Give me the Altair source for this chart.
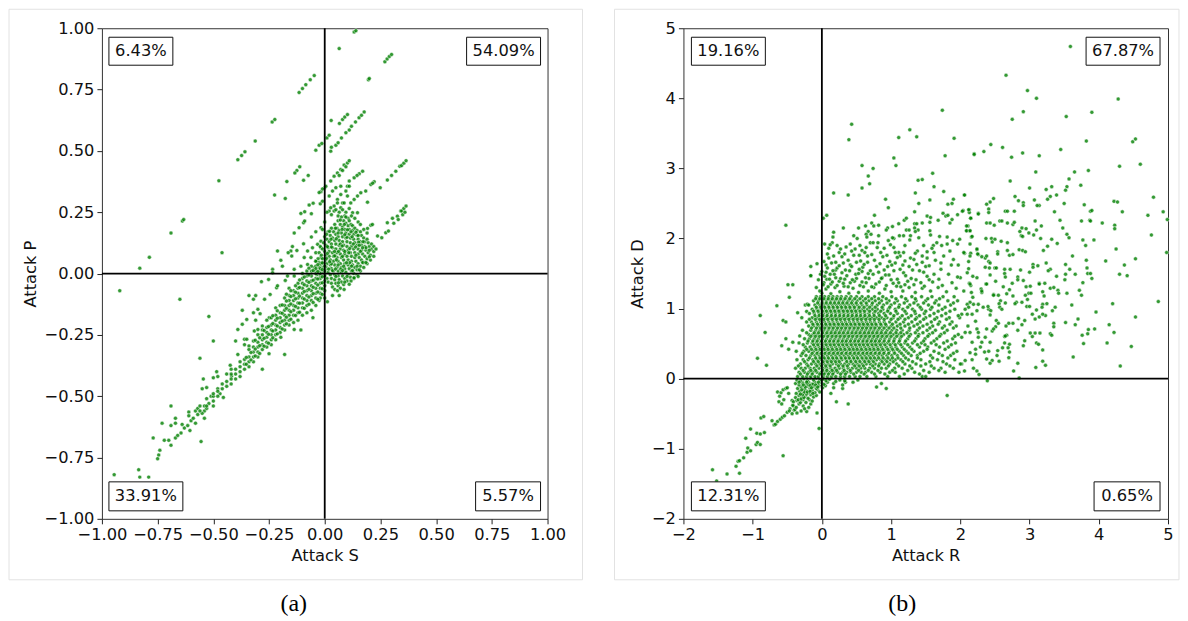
import altair as alt
import pandas as pd

# ---------- panel (a): Attack S / Attack P ----------
a_streaks = [(.132,.985),(.14,.99),(.065,.917),(.27,.863),(.28,.875),(.29,.885),(.30,.893),(.196,.79),(.2,.795),
 (-.115,.738),(-.10,.754),(-.085,.77),(-.065,.79),(-.047,.807),(-.236,.618),(-.224,.628),(-.312,.54),
 (-.39,.464),(-.373,.481),(-.358,.496),(-.475,.378),(-.639,.214),(-.633,.22),(-.69,.165),(-.787,.066),(-.83,.022),(-.461,.085),
 (.029,.624),(.066,.612),(.08,.628),(.09,.638),(.102,.648),(.138,.618),(.154,.635),(.165,.645),(.177,.659),
 (-.04,.503),(-.025,.523),(-.013,.53),(.01,.553),(.02,.564),(.027,.499),(.03,.515),(.05,.523),(.06,.533),(.075,.553),(.095,.574),(.11,.585),(.12,.6),
 (-.112,.435),(-.125,.42),(-.134,.41),(-.17,.375),(-.074,.40),(-.095,.38),(-.225,.32),(-.177,.306),
 (-.107,.245),(-.09,.252),(-.06,.244),(-.07,.279),(-.052,.287),(-.02,.284),(-.01,.295),(-.017,.333),(0,.35),
 (-.115,.187),(-.095,.207),(-.09,.214),(-.137,.165),(-.06,.149),(-.04,.17),(-.017,.187),
 (-.212,.092),(-.145,.11),(-.152,.092),(-.164,.085),(-.125,.094),(-.095,.121),(-.197,.054),(-.19,.03),(-.148,.071),(-.234,.017),
 (-.077,.092),(-.055,.105),(-.032,.119),(-.017,.132),(-.062,.065),(-.04,.085),(-.017,.105),(-.092,.065),(-.107,.03),(-.077,.037),(-.04,.051),(-.137,.017),(-.047,.024),(-.017,.065),(-.017,.03),
 (.027,.377),(.042,.397),(.057,.41),(.072,.424),(.087,.442),(.102,.451),(.11,.46),(.095,.435),(.08,.42),(.065,.4),
 (-.025,.33),(-.01,.345),(.005,.356),(.02,.316),(.035,.336),(.05,.35),(.072,.356),(.102,.356),
 (.11,.377),(.132,.39),(.155,.407),(.17,.417),(.145,.4),(.057,.302),(.072,.322),(.095,.336),(.11,.356),
 (.02,.255),(.042,.275),(.057,.288),(.08,.288),(.102,.316),(.027,.268),(.042,.255),(.072,.268),(.087,.288),(.117,.288),(.132,.302),(.147,.316),(.162,.329),(.184,.336),
 (.207,.363),(.222,.374),(.215,.368),(.249,.35),(.281,.381),(.3,.4),(.319,.417),(.337,.437),(.345,.44),(.355,.45),(.365,.46),
 (.192,.291),(.147,.248),(.125,.248),(.207,.197),(.192,.184),(.214,.2),(.281,.207),(.304,.225),(.326,.234),(.341,.255),
 (.345,.255),(.355,.265),(.365,.275),(.35,.24),(.36,.25),(.33,.22),(.31,.205),(.256,.146),(.274,.166),(.286,.173),(.237,.153),
 (.01,.25),(.03,.24),(.05,.26),(.065,.25),(.08,.26),(.095,.25),(.11,.265),(.06,.235),(.09,.235),(.105,.225),(.12,.235),(.135,.225),(.15,.21),(.0,.21),(-.01,.18),(.16,.2),(.175,.18),(.19,.165)]

a_blob = [(0,.15),(.015,.17),(.03,.185),(.045,.2),(.06,.215),(.075,.23),
 (-.02,.11),(-.005,.125),(.01,.14),(.025,.155),(.04,.17),(.055,.185),(.07,.2),(.085,.215),(.095,.23),
 (-.025,.085),(-.01,.1),(.005,.115),(.02,.13),(.035,.145),(.05,.16),(.065,.175),(.08,.19),(.095,.205),(.11,.215),
 (-.03,.06),(-.015,.075),(0,.09),(.015,.105),(.03,.12),(.045,.135),(.06,.15),(.075,.165),(.09,.18),(.105,.195),(.118,.2),
 (-.04,.03),(-.025,.045),(-.01,.06),(.005,.075),(.02,.09),(.035,.105),(.05,.12),(.065,.135),(.08,.15),(.095,.165),(.11,.18),(.125,.195),
 (-.04,.01),(-.025,.025),(-.01,.04),(.005,.055),(.02,.07),(.035,.085),(.05,.1),(.065,.115),(.08,.13),(.095,.145),(.11,.16),(.125,.175),(.135,.185),
 (-.035,-.005),(-.02,.01),(-.005,.025),(.01,.04),(.025,.055),(.04,.07),(.055,.085),(.07,.1),(.085,.115),(.1,.13),(.115,.145),(.13,.16),(.145,.175),
 (-.02,-.01),(-.005,.005),(.01,.02),(.025,.035),(.04,.05),(.055,.065),(.07,.08),(.085,.095),(.1,.11),(.115,.125),(.13,.14),(.145,.155),(.16,.17),
 (0,-.01),(.015,.005),(.03,.02),(.045,.035),(.06,.05),(.075,.065),(.09,.08),(.105,.095),(.12,.11),(.135,.125),(.15,.14),(.165,.155),
 (.01,-.02),(.025,-.005),(.04,.01),(.055,.025),(.07,.04),(.085,.055),(.1,.07),(.115,.085),(.13,.1),(.145,.115),(.16,.13),(.175,.145),
 (.015,-.035),(.03,-.02),(.045,-.005),(.06,.01),(.075,.025),(.09,.04),(.105,.055),(.12,.07),(.135,.085),(.15,.1),(.165,.115),(.18,.13),(.19,.14),
 (.03,-.04),(.045,-.025),(.06,-.01),(.075,.005),(.09,.02),(.105,.035),(.12,.05),(.135,.065),(.15,.08),(.165,.095),(.18,.11),(.195,.125),
 (.035,-.055),(.05,-.04),(.065,-.025),(.08,-.01),(.095,.005),(.11,.02),(.125,.035),(.14,.05),(.155,.065),(.17,.08),(.185,.095),(.2,.11),(.21,.12),
 (.045,-.065),(.06,-.05),(.075,-.035),(.09,-.02),(.105,-.005),(.12,.01),(.135,.025),(.15,.04),(.165,.055),(.18,.07),(.195,.085),(.21,.1),(.22,.11),
 (.07,-.06),(.085,-.045),(.1,-.03),(.115,-.015),(.13,0),(.145,.015),(.16,.03),(.175,.045),(.19,.06),(.205,.075),(.22,.09),(.23,.1),
 (.13,-.02),(.145,-.005),(.16,.01),(.175,.025),(.19,.04),(.205,.055),(.22,.07),
 (.008,.16),(.022,.172),(.048,.185),(.07,.218),(.088,.2),(.102,.178),(.06,.165),(.03,.108),(.012,.082),(.044,.09),(.07,.12),(.1,.148),(.123,.15),(.14,.168),
 (.005,.028),(.03,.04),(.052,.056),(.08,.07),(.108,.085),(.128,.12),(.152,.128),(.172,.13),(.035,.012),(.06,.035),(.085,.03),(.112,.044),(.14,.075),(.16,.09),(.185,.105),(.2,.095),
 (.012,.11),(.028,.14),(.052,.142),(.078,.18),(.09,.158),(.118,.17),(.15,.155),(.008,.062),(.022,.048),(.045,.072),(.062,.09),(.078,.112),(.09,.09),(.112,.102),(.138,.108),(.155,.115),(.17,.105),
 (.018,.018),(.048,.018),(.072,.018),(.098,.044),(.12,.03),(.145,.03),(.17,.045),(.2,.068),(.05,-.012),(.08,.012),(.1,-.012),(.125,.012),(.155,.015),(.185,.045),(.062,-.038),(.09,-.035),(.118,-.03),(.15,-.012)]

a_band_columns = {0:[-.1,-.07,-.05,-.03,-.01,.01,.03],-.02:[-.1,-.08,-.06,-.04,-.02,0,.02,.04],
 -.04:[-.13,-.1,-.08,-.06,-.04,-.02,0,.02,.05],-.06:[-.15,-.11,-.09,-.07,-.05,-.03,-.01,.01,.03],
 -.08:[-.16,-.13,-.11,-.09,-.07,-.05,-.03,-.01,.01],-.1:[-.17,-.14,-.12,-.1,-.08,-.06,-.04,-.02,0],
 -.12:[-.19,-.16,-.14,-.12,-.1,-.08,-.06,-.04],-.14:[-.2,-.17,-.15,-.13,-.11,-.09,-.07],
 -.16:[-.21,-.19,-.17,-.15,-.13,-.11,-.09,-.06],-.18:[-.23,-.21,-.19,-.17,-.15,-.13,-.1],
 -.2:[-.24,-.22,-.2,-.18,-.16,-.13],-.22:[-.27,-.25,-.23,-.21,-.19,-.17,-.14],-.24:[-.29,-.27,-.25,-.23,-.21,-.18],
 -.26:[-.3,-.28,-.26,-.24,-.22,-.19],-.28:[-.31,-.29,-.27,-.25,-.23],-.3:[-.34,-.32,-.3,-.28,-.25],
 -.32:[-.36,-.34,-.32,-.3],-.34:[-.38,-.36,-.34,-.31],-.36:[-.39,-.37,-.35],-.38:[-.42,-.4,-.38,-.36],
 -.4:[-.43,-.41,-.39],-.42:[-.45,-.43,-.41,-.39],-.44:[-.46,-.44,-.41],-.46:[-.47,-.45],-.48:[-.5,-.48],
 -.5:[-.52,-.5,-.49],-.53:[-.54,-.51],-.56:[-.56,-.54],
 -.011:[-.085,-.062,-.038,-.013,.016,.044],-.031:[-.105,-.075,-.047,-.022,.008,.036],-.052:[-.118,-.082,-.056,-.027,.012],
 -.071:[-.125,-.096,-.064,-.036,-.006,.022],-.092:[-.142,-.104,-.073,-.046,-.014],-.113:[-.158,-.121,-.092,-.057,-.026],
 -.131:[-.171,-.134,-.103,-.076,-.05],-.152:[-.186,-.156,-.124,-.094,-.07],-.172:[-.205,-.178,-.142,-.112,-.084],
 -.191:[-.226,-.194,-.162,-.128],-.213:[-.246,-.214,-.182,-.152],-.233:[-.262,-.234,-.204,-.172],-.252:[-.284,-.248,-.216],
 -.272:[-.296,-.264,-.232],-.292:[-.326,-.294,-.262],-.312:[-.336,-.308,-.272],-.331:[-.352,-.322],-.352:[-.37,-.342]}

a_sparse = [(-.92,-.07),(-.65,-.105),(-.52,-.175),(-.50,-.275),(-.56,-.345),(-.18,-.33),(-.28,-.39),
 (-.545,-.43),(-.485,-.40),(-.48,-.42),(-.50,-.425),(-.55,-.47),(-.53,-.465),(-.48,-.47),(-.455,-.505),(-.69,-.54),
 (-.73,-.61),(-.69,-.62),(-.67,-.61),(-.67,-.59),(-.61,-.565),(-.61,-.58),(-.58,-.56),(-.57,-.575),
 (-.54,-.59),(-.54,-.54),(-.54,-.56),(-.53,-.55),(-.77,-.67),(-.72,-.68),(-.70,-.68),(-.69,-.70),(-.555,-.685),
 (-.74,-.72),(-.745,-.74),(-.75,-.755),(-.67,-.67),(-.66,-.66),(-.645,-.65),(-.63,-.63),(-.64,-.615),(-.615,-.62),(-.60,-.60),(-.605,-.64),
 (-.945,-.82),(-.835,-.80),(-.83,-.83),(-.79,-.83),(-.59,-.59),(-.57,-.55),(-.52,-.53),(-.51,-.5),(-.58,-.61),(-.55,-.57),(-.5,-.54),(-.47,-.49),
 (-.34,-.09),(-.31,-.09),(-.32,-.105),(-.245,-.085),(-.27,-.105),(-.37,-.15),(-.32,-.16),(-.30,-.146),(-.29,-.164),(-.35,-.187),(-.31,-.19),(-.37,-.207),
 (-.39,-.228),(-.40,-.275),(-.36,-.268),(-.35,-.268),(-.39,-.33),(-.36,-.29),(-.34,-.295),(-.32,-.275),(-.316,-.234),(-.30,-.228),(-.28,-.214),(-.418,-.418),(-.424,-.374),
 (-.284,-.033),(-.252,-.024),(-.216,-.058),(-.177,-.028),(-.234,.003),(-.167,-.01),(-.137,-.01),(-.249,-.18),(-.212,-.05),
 (-.107,-.23),(-.137,-.228),(-.197,-.26),(-.25,-.327),(-.053,-.18),(-.025,-.11),(.012,-.115),(.035,-.09),(.057,-.07),(.065,-.09),(.087,-.065),(.11,-.044),(.132,-.017)]

# ---------- panel (b): Attack R / Attack D ----------
b_sparse = [(3.59,4.74),(2.66,4.33),(2.97,4.11),(3.10,4.00),(4.28,3.99),(2.91,3.81),(2.75,3.70),(3.53,3.74),(3.90,3.80),(3.82,3.39),(4.49,3.38),(4.53,3.42),
 (2.20,3.21),(2.34,3.24),(2.44,3.34),(2.61,3.30),(2.74,3.16),(2.90,3.22),(3.14,3.18),(3.45,3.27),(4.30,3.03),(4.60,3.06),(3.85,2.97),(3.65,2.95),(3.09,2.95),
 (3.57,2.85),(2.72,2.82),(3.54,2.74),(3.74,2.76),(3.52,2.69),(3.32,2.74),(3.24,2.70),(3.0,2.72),(3.39,2.62),(3.30,2.60),(3.26,2.56),(4.79,2.59),(2.06,2.62),
 (2.48,2.57),(2.43,2.52),(2.38,2.49),(2.79,2.60),(2.84,2.54),(2.91,2.51),(2.91,2.47),(3.07,2.55),(3.14,2.47),(3.11,2.47),(3.50,2.50),(3.79,2.48),(4.22,2.53),(4.27,2.52),
 (4.34,2.38),(3.88,2.39),(3.90,2.40),(4.71,2.33),(4.93,2.38),(4.99,2.27),(3.36,2.38),(2.04,2.40),(2.13,2.41),(2.13,2.37),(2.26,2.36),(2.41,2.42),(2.41,2.37),(2.65,2.39),(2.68,2.39),(2.78,2.39),
 (2.15,2.29),(2.38,2.22),(2.43,2.22),(2.49,2.19),(2.57,2.25),(2.60,2.25),(2.68,2.22),(2.76,2.20),(2.78,2.23),(3.08,2.25),(3.17,2.18),(3.44,2.26),(3.75,2.25),(3.87,2.26),(3.88,2.25),(4.05,2.22),(4.23,2.19),(4.23,2.14),
 (2.89,2.15),(2.95,2.14),(2.86,2.10),(2.99,2.08),(3.10,2.12),(3.16,2.0),(3.06,2.05),(2.88,2.04),(2.90,2.03),(3.48,2.15),(3.54,2.06),(3.57,2.01),(4.76,2.05),
 (2.09,2.11),(2.14,2.11),(2.11,2.18),(2.16,2.02),(2.37,2.0),(2.45,2.0),(2.50,1.99),(2.46,1.95),(2.59,1.96),(2.68,1.94),(3.32,1.99),(3.77,1.98),(3.93,1.98),(3.40,1.93),(3.81,1.90),(3.26,1.89),(3.20,1.83),
 (2.85,1.84),(2.90,1.83),(2.94,1.81),(2.68,1.83),(2.54,1.81),(2.54,1.78),(2.71,1.76),(2.76,1.77),(4.25,1.85),(4.98,1.80),(3.62,1.75),(4.53,1.71),(4.10,1.68),(3.82,1.69),(4.37,1.62),(4.30,1.49),(4.41,1.47),
 (3.52,1.63),(3.24,1.65),(3.12,1.61),(3.05,1.63),(3.05,1.59),(3.83,1.58),(3.84,1.50),(3.88,1.50),(3.90,1.43),(3.30,1.56),(3.27,1.54),(3.58,1.56),(3.66,1.49),(3.52,1.49),(3.51,1.41),
 (2.87,1.55),(2.72,1.56),(2.64,1.56),(2.64,1.50),(2.65,1.45),(3.0,1.52),(2.83,1.45),(2.91,1.40),(2.83,1.41),(2.75,1.36),(3.39,1.46),(3.77,1.37),(3.14,1.36),(3.22,1.36),
 (4.86,1.10),(4.20,1.07),(3.61,1.05),(3.96,.95),(4.53,.88),(3.70,.85),(3.66,.77),(3.52,.80),(4.15,.77),(4.22,.66),(3.94,.71),(3.85,.70),(3.84,.64),(3.76,.62),(3.78,.50),(4.12,.51),(4.47,.46),(3.63,.31),(4.31,.18),
 (3.35,.79),(3.35,.74),(3.37,1.02),(3.33,.97),(3.25,1.07),(3.19,1.06),(3.18,1.02),(3.10,.98),(3.04,.92),(3.23,.90),(3.14,.88),(3.08,.85),(3.19,.92),(2.93,.83),(2.89,.77),
 (3.01,.65),(3.08,.65),(3.15,.65),(3.30,.64),(3.32,.62),(3.04,.60),(2.93,.54),(3.10,.51),(3.13,.49),(2.91,.47),(3.19,.41),(2.83,.69),(2.84,.86),(2.76,.79),(2.70,.79),
 (2.66,.75),(2.67,.62),(2.64,.60),(2.64,.51),(2.71,.49),(2.69,.44),(2.71,.38),(2.70,.30),(2.61,.44),(2.83,.22),(2.77,.11),(2.85,.01),(3.09,.16),(3.19,.25),(3.23,.19),(2.39,-.03),
 (3.30,1.29),(3.35,1.30),(3.41,1.26),(3.42,1.22),(3.19,1.24),(3.21,1.18),(3.14,1.35),(3.54,1.22),(3.72,1.26),(3.75,1.19),(2.95,1.31),(3.01,1.32),(2.94,1.19),(2.99,1.22),(3.02,1.22),(2.97,1.13),(2.96,1.03),(3.0,1.03),
 (2.81,1.09),(2.89,1.09),(2.79,1.07),(2.67,1.21),(2.76,1.18),(2.71,1.27),(2.62,1.31),(2.55,1.19),(2.48,1.20),(2.58,1.11),(2.56,1.07),(2.57,1.02),(2.60,.99),(2.65,1.08),
 (2.36,1.72),(2.24,1.84),(2.15,1.79),(2.06,1.79),(2.26,1.77),(2.31,1.74),(2.38,1.75),(2.41,1.67),(2.43,1.65),(2.36,1.59),(2.42,1.58),(2.50,1.58),(2.52,1.58),
 (2.43,1.48),(2.51,1.39),(2.37,1.35),(2.30,1.28),(2.31,1.23),(2.48,1.19),(2.24,1.44),(2.18,1.46),(2.12,1.57),(2.12,1.67),(2.10,1.51),(2.13,1.36),(2.15,1.33),
 (2.41,.99),(2.40,1.03),(2.44,.97),(2.43,.91),(2.52,.83),(2.55,.79),(2.51,.74),(2.46,.68),(2.48,.71),(2.38,.71),(2.65,.61),(2.36,.59),(2.31,.52),(2.43,.52),(2.29,.45),(2.35,.38),(2.41,.39),(2.54,.40),(2.53,.33),(2.46,.26),(2.43,.22),(2.38,.28),(2.56,.25),
 (2.26,1.06),(2.33,1.02),(2.24,.97),(2.19,1.06),(2.14,1.09),(2.18,1.16),(2.16,1.23),(2.14,1.35),(2.05,1.25),(2.0,1.44),(2.31,1.25),(2.38,1.35),
 (2.10,1.06),(2.12,1.02),(2.07,.99),(2.02,.92),(2.10,.92),(2.17,.92),(2.22,.82),(2.24,.71),(2.14,.66),(2.07,.66),(2.02,.59),(2.17,.52),(2.22,.42),(2.14,.37),(2.07,.26),(2.02,.21),(2.06,.11),(2.19,.15),(2.24,.11),(2.27,.06),(2.17,.27),(2.22,.35),(2.26,.59),(2.11,.75),(2.26,.66),
 (1.74,3.83),(.43,3.63),(.39,3.41),(1.27,3.55),(1.11,3.44),(1.37,3.45),(1.91,3.43),(2.20,3.20),(1.78,3.18),(1.04,3.15),(1.07,3.04),(.58,3.04),(.74,3.0),(.67,2.89),(.69,2.78),(.58,2.72),(.17,2.65),(.38,2.62),
 (1.60,2.93),(1.39,2.83),(1.45,2.84),(1.62,2.74),(1.76,2.67),(1.35,2.65),(2.06,2.62),(.92,2.56),(.96,2.44),(1.40,2.50),(1.56,2.55),(1.82,2.49),(1.88,2.50),(1.90,2.56),(1.34,2.38),(2.03,2.39),(2.12,2.41),(2.26,2.35),
 (1.75,2.36),(1.79,2.32),(1.82,2.33),(1.96,2.34),(1.52,2.32),(1.57,2.30),(1.68,2.26),(1.56,2.23),(1.88,2.27),(1.85,2.22),(.76,2.33),(.72,2.22),(.75,2.18),(.82,2.19),(.63,2.18),
 (1.11,2.21),(1.02,2.17),(.95,2.15),(.93,2.12),(1.19,2.26),(1.22,2.29),(1.34,2.21),(1.37,2.21),(1.45,2.22),(1.34,2.15),(1.39,2.12),(1.35,2.10),(1.22,2.12),(1.26,2.12),(1.18,2.04),(1.28,2.04),(1.12,2.04),(1.04,2.0),
 (1.56,2.11),(1.57,2.05),(1.70,2.03),(1.81,2.02),(2.09,2.18),(2.15,2.29),(2.09,2.11),(2.14,2.11),(2.17,2.03),(.07,2.33),(.02,2.29),(-.52,2.19),(.31,2.15),(.53,2.15),(.17,2.09),(.16,2.02),(.46,2.04),(.51,2.0),
 (.67,2.10),(.64,2.06),(.71,2.06),(.82,2.04),(.65,2.02),(.96,1.97),(1.02,2.01),(1.27,1.98),(1.40,2.01),(1.66,1.94),(1.61,1.90),(1.59,1.86),(1.73,1.90),
 (.04,1.92),(.15,1.94),(.12,1.91),(.35,1.88),(.48,1.85),(.58,1.83),(.64,1.87),(.70,1.94),(.74,1.94),(.81,1.94),(.80,1.87),(.99,1.91),(1.04,1.87),(1.11,1.80),(1.06,1.80),(1.13,1.75),(1.38,1.82),(1.35,1.79),(1.28,1.72),(1.52,1.81),(1.52,1.72),
 (1.81,1.92),(1.89,1.97),(1.99,1.99),(1.85,1.82),(1.76,1.75),(1.96,1.92),(2.05,1.80),(2.14,1.92),(2.24,1.85),(2.25,1.78),(2.14,1.75),(-.07,1.64),(-.16,1.60),(-.16,1.47),
 (-1.58,-1.30),(-1.37,-1.36),(-1.19,-1.35),(-1.52,-1.46),(-1.24,-1.25),(-1.21,-1.18),(-1.19,-1.17),(-1.13,-1.13),(-1.08,-1.05),(-1.07,-.99),(-1.03,-1.03),(-.95,-.94),(-.93,-.91),(-.89,-.94),
 (-1.10,-.85),(-1.03,-.72),(-.94,-.78),(-.89,-.79),(-.83,-.77),(-.88,-.56),(-.84,-.54),(-.72,-.60),(-.56,-1.10),(-.69,-.66),(-.67,-.65),(-.64,-.61),(-.60,-.58),(-.57,-.55),(-.54,-.53),(-.50,-.48),(-.46,-.43),(-.41,-.39),
 (-.07,-.49),(-.04,-.71),(.13,-.21),(.21,-.33),(.38,-.36),(.79,-.12),(.86,-.07),(.93,-.14),(1.81,-.24),
 (-.93,.29),(-.80,.19),(-.82,.66),(-.89,.90),(-.65,1.04),(-.58,.47),(-.52,.57),(-.48,.42),(-.42,.52),(-.56,.83),(-.52,.81),(-.35,.94),(-.47,1.16),(-.49,1.34),(-.42,1.34),(-.16,1.47),(-.22,.96),(-.24,1.05),(-.21,1.06),(-.32,.61),
 (-.64,-.19),(-.61,-.25),(-.59,-.2),(-.56,-.16),(-.52,-.14),(-.5,-.13),(-.62,-.33),(-.58,-.36),(-.55,-.3),(-.48,-.21),(-.43,-.31),(-.4,-.45)]

b_band = [(-.47,-.46),(-.43,-.5),(-.39,-.44),(-.36,-.49),(-.3,-.46),(-.22,-.47),(-.42,-.38),(-.37,-.41),(-.33,-.36),(-.27,-.39),(-.25,-.43),(-.19,-.41),(-.16,-.36),
 (-.41,-.33),(-.36,-.31),(-.31,-.34),(-.27,-.3),(-.23,-.34),(-.18,-.3),(-.14,-.32),(-.38,-.27),(-.33,-.24),(-.29,-.27),(-.24,-.25),(-.2,-.28),(-.16,-.23),(-.12,-.26),(-.08,-.24),
 (-.37,-.21),(-.32,-.18),(-.27,-.21),(-.23,-.17),(-.19,-.2),(-.14,-.17),(-.1,-.2),(-.06,-.16),(-.03,-.19),(-.35,-.14),(-.3,-.12),(-.25,-.15),(-.21,-.11),(-.17,-.14),(-.12,-.11),(-.08,-.14),(-.04,-.1),(.01,-.13),(.05,-.1),(.17,-.13),(.3,-.14),
 (-.38,-.07),(-.33,-.09),(-.28,-.06),(-.24,-.09),(-.19,-.05),(-.15,-.08),(-.1,-.05),(-.06,-.08),(-.01,-.05),(.03,-.08),(.08,-.05),(.17,-.07),(.3,-.09),(.34,-.05),
 (-.36,-.02),(-.31,-.03),(-.26,.0),(-.21,-.03),(-.17,.01),(-.12,-.02),(-.08,.01),(-.03,-.02),(.02,-.01),(.06,-.03),(.11,-.01),(.2,-.04),(.26,-.02),(.33,-.03),(.45,-.05),(.52,-.02),
 (-.34,-.3),(-.3,-.29),(-.26,-.27),(-.22,-.22),(-.28,-.23),(-.31,-.22),(-.25,-.19),(-.21,-.19),(-.17,-.18),(-.29,-.16),(-.24,-.12),(-.2,-.08),(-.13,-.08),(-.17,-.1),(-.09,-.09),(-.05,-.05),(-.22,-.05),(-.27,-.09),(-.33,-.05),(-.13,-.21),(-.15,-.13),(-.06,-.12)]

b_top = [(.0,1.22),(.06,1.28),(.13,1.21),(.19,1.3),(.26,1.24),(.32,1.32),(.39,1.22),(.45,1.29),(.53,1.23),(.6,1.31),(.67,1.25),(.75,1.3),(.83,1.22),(.91,1.28),(1.0,1.24),(1.08,1.32),(1.17,1.25),(1.26,1.3),(1.35,1.23),(1.45,1.29),(1.57,1.25),(1.68,1.3),(1.8,1.24),(1.94,1.29),
 (-.08,1.3),(-.03,1.25),(.03,1.37),(.07,1.42),(.13,1.35),(.2,1.44),(.25,1.39),(.33,1.42),(.41,1.37),(.5,1.43),(.58,1.38),(.68,1.43),(.78,1.35),(.87,1.44),(1.0,1.41),(1.11,1.37),(1.2,1.34),(1.29,1.43),(1.43,1.37),(1.55,1.41),
 (-.02,1.49),(.06,1.52),(.12,1.49),(.2,1.55),(.29,1.51),(.4,1.54),(.49,1.49),(.58,1.53),(.67,1.5),(.82,1.52),(.92,1.48),(1.04,1.54),(1.18,1.51),(1.31,1.55),(1.47,1.52),(1.62,1.49),
 (.06,1.62),(.14,1.65),(.22,1.58),(.31,1.65),(.41,1.62),(.5,1.66),(.59,1.59),(.66,1.66),(.84,1.64),(.95,1.6),(1.06,1.65),(1.17,1.62),(1.37,1.63),(1.5,1.6),
 (.08,1.78),(.17,1.75),(.25,1.8),(.33,1.78),(.43,1.82),(.54,1.76),(.62,1.8),(.72,1.77),(.85,1.8),(.94,1.76),(1.18,1.8),(1.45,1.75),(1.62,1.8),
 (.1,1.86),(.22,1.9),(.27,1.85),(.41,1.92),(.55,1.9),(.9,1.86),(1.2,1.9),(1.47,1.9),
 (.02,1.34),(.09,1.31),(.15,1.38),(.22,1.33),(.31,1.36),(.38,1.31),(.47,1.39),(.55,1.33),(.64,1.37),(.72,1.31),(.83,1.38),(.93,1.33),(1.03,1.36),(1.14,1.31),(1.24,1.39),(1.33,1.34),(1.48,1.32),(1.6,1.38),(1.74,1.33),(1.88,1.37),
 (-.05,1.41),(.04,1.46),(.11,1.42),(.18,1.49),(.27,1.43),(.36,1.47),(.44,1.41),(.53,1.5),(.63,1.44),(.74,1.49),(.86,1.43),(.97,1.48),(1.09,1.42),(1.21,1.47),(1.36,1.41),(1.52,1.46),(1.69,1.42),(1.83,1.49),(1.96,1.45),
 (.0,1.53),(.08,1.58),(.16,1.54),(.25,1.61),(.34,1.55),(.43,1.6),(.54,1.56),(.61,1.63),(.7,1.54),(.79,1.6),(.9,1.55),(1.01,1.62),(1.13,1.56),(1.26,1.6),(1.41,1.54),(1.55,1.61),(1.72,1.56),(1.87,1.62),
 (.03,1.67),(.1,1.72),(.2,1.66),(.29,1.74),(.38,1.69),(.46,1.76),(.56,1.68),(.66,1.75),(.76,1.69),(.88,1.74),(.98,1.67),(1.09,1.73),(1.2,1.68),(1.33,1.7),(1.45,1.66),(1.64,1.69),(1.72,1.65),(1.9,1.7),(1.97,1.62)]

b_rows = {
 .03:[-.35,-.28,-.22,-.16,-.1,-.05,.02,.08,.14,.2,.27,.33,.4,.48,.55,.65,.78,.95,1.12,1.45,1.5],
 .09:[-.33,-.25,-.19,-.13,-.07,-.01,.05,.11,.17,.23,.3,.36,.42,.5,.57,.63,.72,.84,.98,1.06,1.34,1.55,1.78,1.98],
 .15:[-.38,-.3,-.24,-.17,-.11,-.04,.02,.07,.13,.19,.25,.31,.38,.44,.5,.56,.62,.69,.76,.86,.93,1.05,1.16,1.3,1.62,1.72,1.9],
 .21:[-.31,-.22,-.15,-.09,-.03,.03,.09,.15,.21,.27,.33,.39,.45,.51,.58,.64,.7,.77,.83,.9,.98,1.08,1.2,1.36,1.5,1.8,2.0],
 .27:[-.36,-.27,-.2,-.13,-.07,-.01,.05,.11,.17,.23,.29,.35,.41,.47,.53,.6,.66,.72,.79,.85,.92,.99,1.06,1.14,1.25,1.43,1.67,1.92],
 .33:[-.3,-.23,-.16,-.1,-.04,.02,.08,.14,.2,.26,.32,.38,.44,.5,.56,.62,.68,.74,.81,.87,.94,1.01,1.09,1.18,1.29,1.38,1.57,1.74,1.86],
 .39:[-.37,-.26,-.19,-.12,-.06,0,.06,.12,.18,.24,.3,.36,.42,.48,.54,.6,.66,.72,.78,.84,.9,.97,1.04,1.12,1.22,1.33,1.47,1.62,1.95],
 .45:[-.24,-.17,-.1,-.04,.02,.08,.14,.2,.26,.32,.38,.44,.5,.56,.62,.68,.74,.8,.86,.93,1.0,1.07,1.16,1.27,1.41,1.53,1.7,1.83],
 .51:[-.33,-.21,-.14,-.08,-.02,.04,.1,.16,.22,.28,.34,.4,.46,.52,.58,.64,.7,.76,.82,.88,.95,1.03,1.11,1.2,1.31,1.44,1.58,1.76,1.93],
 .57:[-.25,-.18,-.11,-.05,.01,.07,.13,.19,.25,.31,.37,.43,.49,.55,.61,.67,.73,.79,.85,.91,.98,1.05,1.13,1.24,1.36,1.49,1.66,1.89],
 .63:[-.19,-.13,-.07,-.01,.05,.11,.17,.23,.29,.35,.41,.47,.53,.59,.65,.71,.77,.83,.89,.96,1.03,1.1,1.18,1.28,1.4,1.55,1.72,1.97],
 .69:[-.28,-.16,-.09,-.03,.03,.09,.15,.21,.27,.33,.39,.45,.51,.57,.63,.69,.75,.81,.87,.94,1.01,1.08,1.16,1.26,1.38,1.52,1.64,1.81],
 .75:[-.19,-.12,-.05,.01,.07,.13,.19,.25,.31,.37,.43,.49,.55,.61,.67,.73,.79,.86,.93,1.0,1.09,1.2,1.33,1.46,1.6,1.77,1.94],
 .81:[-.22,-.15,-.08,-.02,.04,.1,.16,.22,.28,.34,.4,.46,.52,.58,.64,.7,.76,.83,.9,.98,1.07,1.18,1.3,1.42,1.58,1.7,1.88],
 .87:[-.29,-.14,-.07,0,.06,.12,.18,.24,.3,.36,.42,.48,.54,.6,.66,.72,.79,.86,.94,1.03,1.13,1.25,1.37,1.5,1.66,1.84,1.99],
 .93:[-.18,-.11,-.04,.02,.08,.14,.2,.26,.32,.38,.44,.5,.56,.62,.68,.75,.82,.9,.99,1.09,1.22,1.35,1.48,1.62,1.79],
 .99:[-.14,-.07,-.01,.05,.11,.17,.23,.29,.35,.41,.47,.53,.59,.66,.73,.8,.88,.96,1.06,1.17,1.31,1.44,1.57,1.74,1.92],
 1.05:[-.19,-.1,-.03,.03,.09,.15,.21,.27,.33,.39,.45,.51,.58,.65,.72,.8,.89,1.0,1.12,1.27,1.39,1.54,1.69,1.86],
 1.11:[-.12,-.05,.01,.07,.13,.19,.25,.31,.38,.44,.51,.6,.68,.77,.86,.97,1.09,1.23,1.36,1.5,1.65,1.82,1.96],
 1.17:[-.08,-.02,.04,.1,.16,.22,.28,.35,.42,.5,.58,.67,.76,.88,1.01,1.15,1.3,1.44,1.59,1.75,1.91]}

b_rows_between = {
 .065:[-.31,-.21,-.14,-.03,.032,.094,.158,.27,.34,.46,.61,.76,.91,1.19,1.41],
 .118:[-.27,-.16,-.09,.012,.072,.148,.212,.322,.41,.53,.67,.81,1.02,1.24,1.47,1.69],
 .182:[-.34,-.2,-.072,-.006,.057,.119,.24,.305,.367,.475,.538,.6,.735,.82,.96,1.11,1.27,1.43,1.58,1.85],
 .243:[-.25,-.12,-.052,.017,.078,.136,.198,.251,.36,.42,.49,.55,.62,.68,.745,.87,.94,1.03,1.17,1.31,1.56,1.75],
 .296:[-.18,-.09,-.027,.033,.093,.157,.213,.278,.34,.395,.46,.515,.58,.64,.7,.76,.82,.885,.955,1.02,1.1,1.21,1.38,1.6,1.82],
 .361:[-.28,-.14,-.07,-.012,.045,.103,.166,.228,.285,.35,.408,.47,.527,.592,.65,.707,.77,.83,.895,.965,1.05,1.15,1.25,1.42,1.69,1.9],
 .418:[-.22,-.15,-.085,-.025,.035,.09,.152,.216,.272,.333,.398,.455,.51,.573,.638,.695,.752,.812,.878,.95,1.02,1.09,1.19,1.3,1.52,1.78],
 .484:[-.27,-.12,-.058,.003,.061,.122,.178,.243,.302,.36,.423,.485,.543,.6,.662,.725,.78,.845,.91,.985,1.06,1.14,1.24,1.38,1.49,1.65,1.87],
 .537:[-.2,-.13,-.068,-.008,.052,.114,.172,.235,.296,.352,.415,.476,.53,.594,.652,.714,.772,.832,.9,.968,1.04,1.12,1.21,1.34,1.47,1.62,1.81],
 .604:[-.16,-.094,-.035,.024,.085,.148,.205,.264,.326,.388,.444,.507,.566,.628,.688,.75,.808,.87,.935,1.0,1.08,1.15,1.26,1.39,1.53,1.7,1.92],
 .655:[-.22,-.11,-.048,.012,.073,.134,.192,.252,.312,.376,.436,.493,.552,.615,.676,.734,.795,.858,.922,.99,1.07,1.14,1.23,1.35,1.46,1.6,1.77],
 .722:[-.15,-.078,-.018,.043,.104,.163,.226,.284,.345,.404,.466,.524,.586,.646,.708,.766,.83,.898,.97,1.04,1.14,1.27,1.41,1.56,1.74,1.9],
 .778:[-.13,-.063,-.004,.056,.118,.176,.238,.298,.356,.418,.478,.54,.598,.66,.722,.78,.85,.92,1.02,1.13,1.25,1.38,1.52,1.68,1.85],
 .846:[-.18,-.095,-.033,.028,.086,.15,.21,.268,.33,.39,.452,.512,.57,.634,.695,.758,.825,.9,1.0,1.1,1.2,1.35,1.47,1.63,1.8],
 .899:[-.1,-.04,.016,.075,.138,.197,.258,.318,.378,.438,.5,.56,.622,.688,.755,.83,.92,1.04,1.16,1.29,1.41,1.56,1.73,1.97],
 .963:[-.12,-.055,.008,.066,.128,.188,.246,.31,.37,.43,.49,.552,.615,.69,.77,.85,.95,1.07,1.2,1.34,1.5,1.68,1.85],
 1.02:[-.08,-.016,.042,.102,.163,.225,.285,.345,.405,.47,.54,.61,.69,.77,.87,.98,1.11,1.24,1.42,1.59,1.78],
 1.08:[-.06,.004,.062,.123,.182,.243,.302,.362,.428,.495,.565,.64,.73,.83,.94,1.05,1.19,1.33,1.47,1.63,1.9],
 1.14:[-.09,-.03,.03,.092,.15,.212,.272,.335,.402,.475,.55,.63,.72,.82,.93,1.07,1.21,1.35,1.53,1.7]}

percent_a = ["6.43%", "54.09%", "33.91%", "5.57%"]
percent_b = ["19.16%", "67.87%", "12.31%", "0.65%"]
captions = ["(a)", "(b)"]
ticks_a = [-1, -.75, -.5, -.25, 0, .25, .5, .75, 1]
ticks_b = [-2, -1, 0, 1, 2, 3, 4, 5]

rows_a = a_streaks + a_blob + a_sparse + [(x, y) for x, ys in a_band_columns.items() for y in ys]
rows_b = (b_sparse + b_band + b_top + [(x, y) for y, xs in b_rows.items() for x in xs]
          + [(x, y) for y, xs in b_rows_between.items() for x in xs])
df_a = pd.DataFrame(rows_a, columns=["x", "y"])
df_b = pd.DataFrame(rows_b, columns=["x", "y"])

FONT = "DejaVu Sans"
EMPTY = alt.Data(values=[{}])


def box(label, x0, x1, y0, y1):
    r = alt.Chart(EMPTY).mark_rect(fill="white", stroke="#111", strokeWidth=1).encode(
        x=alt.value(x0), x2=alt.value(x1), y=alt.value(y0), y2=alt.value(y1))
    t = alt.Chart(EMPTY).mark_text(text=label, font=FONT, fontSize=16.3, color="#111", align="center", baseline="middle").encode(
        x=alt.value((x0 + x1) / 2), y=alt.value((y0 + y1) / 2))
    return [r, t]


def panel(df, title_x, title_y, dom_x, dom_y, ticks_x, ticks_y, fmt, w, frame, labels, caption, cap_x, tpad_y):
    ax = dict(labelFont=FONT, titleFont=FONT, labelFontSize=16.3, titleFontSize=16.3, titleFontWeight="normal",
              labelColor="#111", titleColor="#111", grid=False, tickSize=5, tickColor="#222", tickWidth=1,
              domain=False, labelPadding=3, format=fmt, labelFlush=False, labelOverlap=False)
    frame_rect = alt.Chart(EMPTY).mark_rect(fill="transparent", stroke="#e2e2e2", strokeWidth=1).encode(
        x=alt.value(frame[0]), x2=alt.value(frame[1]), y=alt.value(frame[2]), y2=alt.value(frame[3]))
    pts = alt.Chart(df).mark_circle(size=16, fill="#008000", fillOpacity=.8, stroke="white", strokeWidth=.45, opacity=1).encode(
        x=alt.X("x:Q", title=title_x, scale=alt.Scale(domain=dom_x, nice=False, zero=False),
                axis=alt.Axis(values=ticks_x, titlePadding=4, **ax)),
        y=alt.Y("y:Q", title=title_y, scale=alt.Scale(domain=dom_y, nice=False, zero=False),
                axis=alt.Axis(values=ticks_y, titlePadding=tpad_y, **ax)))
    hline = alt.Chart(EMPTY).mark_rule(color="black", strokeWidth=1.8).encode(y=alt.datum(0))
    vline = alt.Chart(EMPTY).mark_rule(color="black", strokeWidth=1.8).encode(x=alt.datum(0))
    cap = alt.Chart(EMPTY).mark_text(text=caption, font="Liberation Serif", fontSize=24, color="black", align="center", baseline="middle").encode(
        x=alt.value(cap_x), y=alt.value(576))
    layers = [frame_rect, pts, hline, vline]
    for lab, b in labels:
        layers += box(lab, *b)
    layers.append(cap)
    return alt.layer(*layers).properties(width=w, height=491)


left = panel(df_a, "Attack S", "Attack P", [-1, 1], [-1, 1], ticks_a, ticks_a, ".2f", 446, (-93, 481, -19, 552),
             [(percent_a[0], (7, 71, 9, 37)), (percent_a[1], (365, 439, 9, 37)),
              (percent_a[2], (7, 81, 454, 483)), (percent_a[3], (374, 439, 454, 483))],
             captions[0], 192, 6)
right = panel(df_b, "Attack R", "Attack D", [-2, 5], [-2, 5], ticks_b, ticks_b, "d", 485, (-69, 496, -19, 552),
              [(percent_b[0], (8, 82, 9, 37)), (percent_b[1], (403, 477, 9, 37)),
               (percent_b[2], (8, 82, 454, 483)), (percent_b[3], (411, 477, 454, 483))],
              captions[1], 219, 6)

chart = alt.hconcat(left, right, spacing=30).properties(padding=0, background="white").configure_view(stroke="#333", strokeWidth=1)
chart.save("out.html", embed_options={"renderer": "svg", "actions": False})
